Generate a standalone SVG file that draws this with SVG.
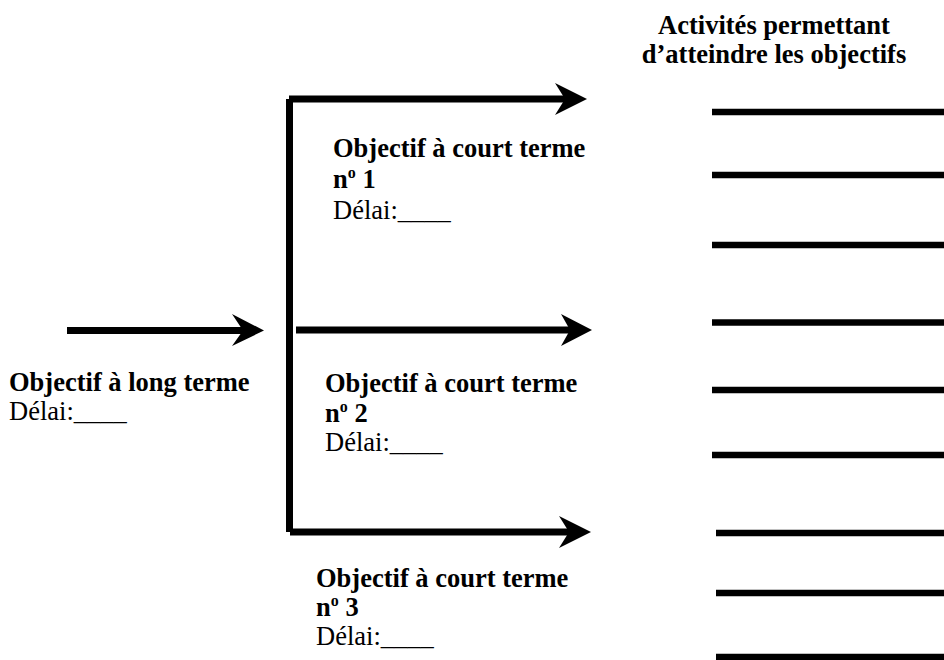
<svg xmlns="http://www.w3.org/2000/svg" width="944" height="660" viewBox="0 0 944 660">
<style>
.b{font-family:"Liberation Serif","Times New Roman",serif;font-weight:bold;font-size:26.5px;fill:#000}
.r{font-family:"Liberation Serif","Times New Roman",serif;font-size:26.5px;fill:#000}
.sup{font-size:16px}
.ln{stroke:#000;stroke-width:7;fill:none;stroke-linecap:butt}
.act{stroke:#000;stroke-width:6.5;fill:none}
.head{fill:#000}
</style>
<rect width="944" height="660" fill="#fff"/>
<g id="connectors">
<line class="ln" x1="67" y1="330.5" x2="244" y2="330.5"/>
<polygon class="head" points="264,330.5 232,314 243,330.5 232,346"/>
<line class="ln" x1="289.5" y1="99" x2="289.5" y2="532"/>
<line class="ln" x1="289" y1="99" x2="566" y2="99"/>
<polygon class="head" points="587,99 555,83 565,99 555,115"/>
<line class="ln" x1="296" y1="330" x2="571" y2="330"/>
<polygon class="head" points="592,330 561,314 570,330 561,346"/>
<line class="ln" x1="290" y1="532" x2="570" y2="532"/>
<polygon class="head" points="591,532 559,516 569,532 559,548"/>
</g>
<g id="long-term">
<text class="b" x="9" y="391">Objectif à long terme</text>
<text class="r" x="9" y="420">Délai:____</text>
</g>
<g id="short-term-1">
<text class="b" x="333" y="157">Objectif à court terme</text>
<text class="b" x="333" y="188">n<tspan class="sup" dy="-10">o</tspan><tspan dy="10"> 1</tspan></text>
<text class="r" x="333" y="219">Délai:____</text>
</g>
<g id="short-term-2">
<text class="b" x="325" y="392">Objectif à court terme</text>
<text class="b" x="325" y="422">n<tspan class="sup" dy="-10">o</tspan><tspan dy="10"> 2</tspan></text>
<text class="r" x="325" y="451">Délai:____</text>
</g>
<g id="short-term-3">
<text class="b" x="316" y="587">Objectif à court terme</text>
<text class="b" x="316" y="616">n<tspan class="sup" dy="-10">o</tspan><tspan dy="10"> 3</tspan></text>
<text class="r" x="316" y="645">Délai:____</text>
</g>
<g id="activities">
<text class="b" x="774" y="34" text-anchor="middle">Activités permettant</text>
<text class="b" x="774" y="63" text-anchor="middle">d’atteindre les objectifs</text>
<line class="act" x1="712" y1="112" x2="944" y2="112"/>
<line class="act" x1="712" y1="175" x2="944" y2="175"/>
<line class="act" x1="712" y1="245" x2="944" y2="245"/>
<line class="act" x1="712" y1="322.5" x2="944" y2="322.5"/>
<line class="act" x1="712" y1="390" x2="944" y2="390"/>
<line class="act" x1="712" y1="455" x2="944" y2="455"/>
<line class="act" x1="716" y1="533" x2="944" y2="533"/>
<line class="act" x1="716" y1="593" x2="944" y2="593"/>
<line class="act" x1="716" y1="657" x2="944" y2="657"/>
</g>
</svg>
